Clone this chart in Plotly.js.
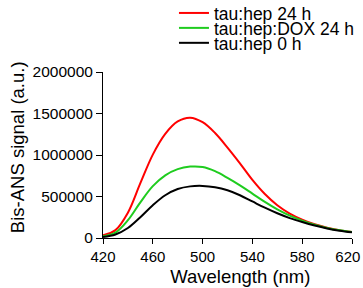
<!DOCTYPE html>
<html>
<head>
<meta charset="utf-8">
<script src="https://cdn.plot.ly/plotly-3.0.1.min.js"></script>
<style>html,body{margin:0;padding:0;background:#fff;}#chart{width:363px;height:288px;}</style>
</head>
<body>
<div id="chart"></div>
<script>
const wavelength = [420,430,440,450,460,470,480,490,500,510,520,530,540,550,560,570,580,590,600,610,620];
const tauHep24h = [33000,95000,305000,660000,1005000,1255000,1405000,1450000,1395000,1265000,1090000,900000,700000,530000,395000,295000,222000,165000,125000,95000,72000];
const tauHepDox24h = [20000,65000,215000,430000,625000,755000,830000,860000,855000,805000,725000,635000,535000,435000,345000,270000,210000,160000,120000,92000,72000];
const tauHep0h = [12000,42000,120000,250000,395000,515000,590000,622000,628000,612000,575000,515000,440000,365000,298000,240000,192000,150000,115000,88000,68000];
const seriesNames = ["tau:hep 24 h","tau:hep:DOX 24 h","tau:hep 0 h"];
const xTicks = [420,460,500,540,580,620];
const xTickText = ["420","460","500","540","580","620"];
const yTicks = [0,500000,1000000,1500000,2000000];
const yTickText = ["0","500000","1000000","1500000","2000000"];

const colors = ["#ff0000","#1fcc1f","#000000"];
const ys = [tauHep24h, tauHepDox24h, tauHep0h];
const legendIds = ["legend","legend2","legend3"];
const traces = ys.map((y,i)=>({
  x: wavelength, y: y, name: seriesNames[i], type:'scatter', mode:'lines',
  legend: legendIds[i],
  line:{color:colors[i], width:2, shape:'spline', smoothing:1}
}));
const font = {family:"Liberation Sans, Arial, sans-serif", color:"#000"};
const legendRowY = [1.355, 1.265, 1.175];
function mkLegend(i){
  return {x:0.285, y:legendRowY[i], xanchor:'left', yanchor:'middle',
    font:Object.assign({size:17.5},font), itemwidth:30, bgcolor:'rgba(0,0,0,0)', borderwidth:0};
}
const pad = n => '<span>' + '\u00A0'.repeat(n) + '</span>';
const xLabels = xTickText.map((t,i)=> i===xTickText.length-1 ? t+pad(2) : t);
const layout = {
  width:363, height:288,
  margin:{l:103, r:11, t:72, b:50, autoexpand:false},
  paper_bgcolor:'#fff', plot_bgcolor:'#fff',
  font:Object.assign({size:16}, font),
  showlegend:true,
  legend: mkLegend(0), legend2: mkLegend(1), legend3: mkLegend(2),
  xaxis:{range:[420,620], tickvals:xTicks, ticktext:xLabels, ticks:'outside', ticklen:5, tickwidth:1, tickcolor:'#000',
    showline:true, linecolor:'#000', linewidth:1, showgrid:false, zeroline:false,
    ticklabeloverflow:'allow', automargin:false,
    tickfont:Object.assign({size:15},font),
    title:{text: pad(5)+'Wavelength (nm)', font:Object.assign({size:18.5},font), standoff:6}},
  yaxis:{range:[0,2000000], tickvals:yTicks, ticktext:yTickText, ticks:'outside', ticklen:6, tickwidth:1, tickcolor:'#000',
    showline:true, linecolor:'#000', linewidth:1, showgrid:false, zeroline:false,
    ticklabeloverflow:'allow', automargin:false,
    tickfont:Object.assign({size:15.5},font),
    title:{text: pad(3)+'Bis-ANS signal (a.u.)', font:Object.assign({size:18.5},font), standoff:3}}
};
Plotly.newPlot('chart', traces, layout, {displayModeBar:false, staticPlot:true});
</script>
</body>
</html>
